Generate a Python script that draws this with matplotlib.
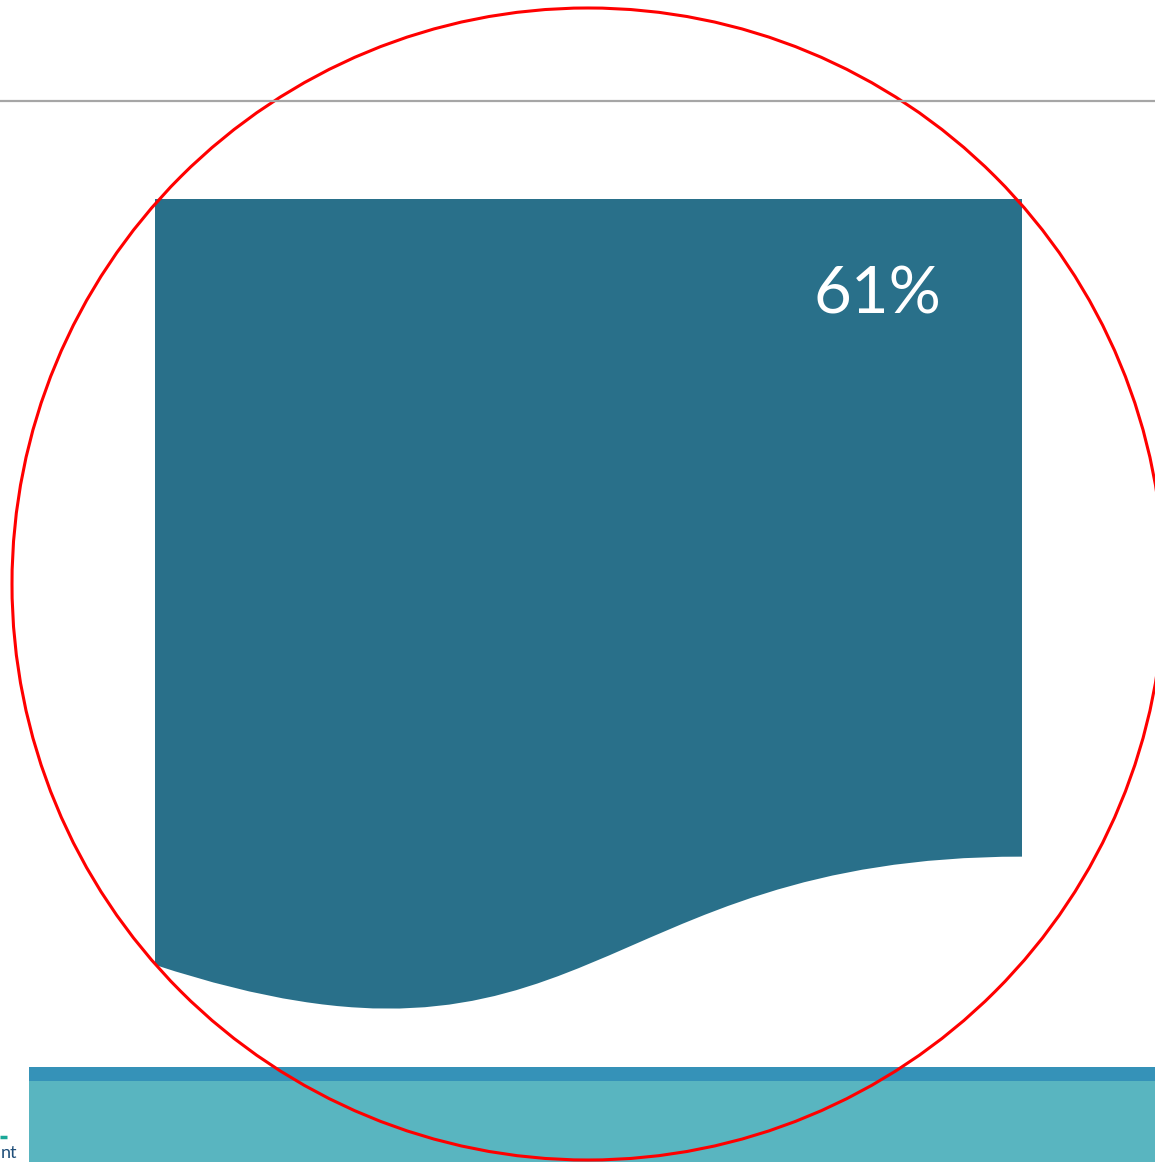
import matplotlib
matplotlib.use("Agg")
import matplotlib.pyplot as plt
from matplotlib.path import Path
from matplotlib.patches import PathPatch, Circle, Rectangle

# value shown on the shape
share_value = 61
share_label = f"{share_value}%"

# layout of the document shape (pixel-like units, y down)
doc_box = [155, 199, 867, 820]   # left, top, width, height
# flowchart "document" bottom curve, as fractions of the box
doc_curve = [0.802, 0.5, 1.1075, 0.934]

ring_center = [588, 584]
ring_radius = 576

W, H = 1155, 1162

fig = plt.figure(figsize=(W / 100, H / 100), dpi=100)
ax = fig.add_axes([0, 0, 1, 1])
ax.set_xlim(0, W)
ax.set_ylim(H, 0)
ax.axis("off")

# thin rule near the top
ax.plot([0, W], [101, 101], color="#a6a6a6", lw=1.6, solid_capstyle="butt")

# document shape
x0, y0, w, h = doc_box
r_end, c_x, c_dip, l_end = doc_curve
verts = [
    (x0, y0),
    (x0 + w, y0),
    (x0 + w, y0 + r_end * h),
    (x0 + c_x * w, y0 + r_end * h),
    (x0 + c_x * w, y0 + c_dip * h),
    (x0, y0 + l_end * h),
    (x0, y0),
]
codes = [Path.MOVETO, Path.LINETO, Path.LINETO,
         Path.CURVE4, Path.CURVE4, Path.CURVE4, Path.CLOSEPOLY]
ax.add_patch(PathPatch(Path(verts, codes), facecolor="#29708a", edgecolor="none"))

ax.text(x0 + w - 81, 295, share_label, color="white", fontsize=47,
        family="Lato", ha="right", va="center")

# footer bands
ax.add_patch(Rectangle((29, 1067), W - 29, 14, facecolor="#3592b8", edgecolor="none"))
ax.add_patch(Rectangle((29, 1081), W - 29, H - 1081, facecolor="#59b5c0", edgecolor="none"))

# fragment of a logo at the bottom left
ax.plot([0, 7], [1137, 1137], color="#1aa898", lw=2.5, solid_capstyle="butt")
ax.text(1, 1161, "nt", color="#1f4e79", fontsize=13, family="Lato", ha="left", va="bottom")

# red ring
ax.add_patch(Circle(ring_center, ring_radius, facecolor="none", edgecolor="red", lw=2.2))

fig.savefig("out.png", dpi=100)
